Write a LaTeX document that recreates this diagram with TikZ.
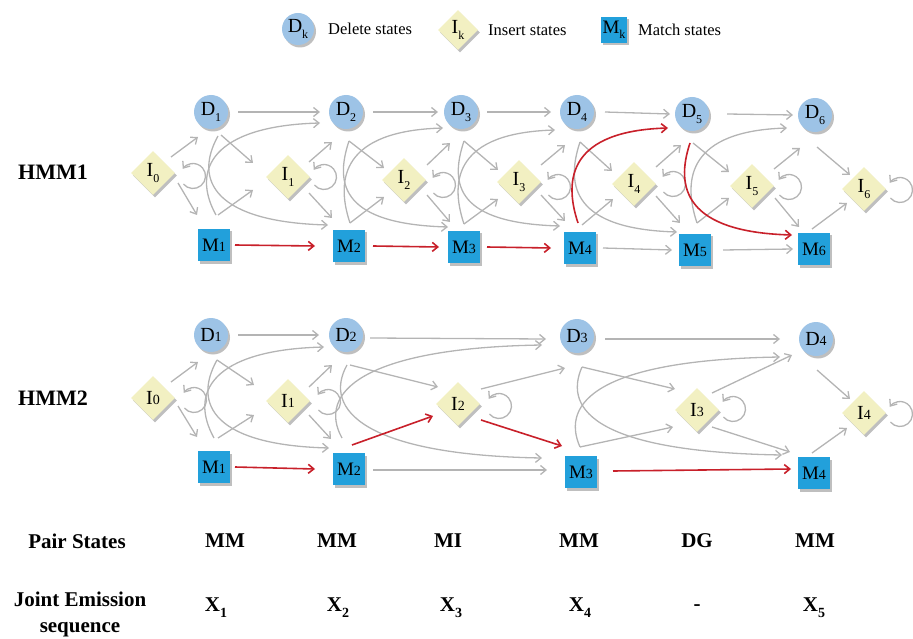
\documentclass[tikz,border=0pt]{standalone}
\usepackage{fontspec}
\setmainfont{Liberation Serif}
\usetikzlibrary{arrows.meta,shapes.geometric,shadows,calc,backgrounds}
\definecolor{dfill}{RGB}{157,195,230}
\definecolor{ifill}{RGB}{242,240,194}
\definecolor{mfill}{RGB}{34,160,219}
\definecolor{gline}{RGB}{180,180,180}
\definecolor{rline}{RGB}{200,32,42}
\newcommand\lsub[1]{\raisebox{-5.5pt}{\fontsize{12}{12}\selectfont #1}}
\newcommand\lsml[1]{{\fontsize{14}{14}\selectfont #1}}
\newcommand\xsub[1]{\raisebox{-6pt}{\fontsize{14}{14}\selectfont #1}}
\newcommand\edgeS[5][garr]{\draw[#1] ([shift={(#3)}]#2.center) -- ([shift={(#5)}]#4.center);}
\newcommand\curveDn[6][garr]{%
  \coordinate (cs) at ([shift={(#3)}]#2.center);
  \coordinate (ct) at ([shift={(#5)}]#4.center);
  \draw[#1] (cs) .. controls ($(cs)+(#6,45)$) and ($(cs |- ct)!0.25!(ct)+(-30,-3)$) .. (ct);}
\newcommand\curveUp[6][garr]{%
  \coordinate (cs) at ([shift={(#3)}]#2.center);
  \coordinate (ct) at ([shift={(#5)}]#4.center);
  \draw[#1] (cs) .. controls ($(cs)+(#6,-45)$) and ($(cs |- ct)!0.25!(ct)+(-30,3)$) .. (ct);}
\newcommand\selfloop[2]{\draw[garr] ([shift={(#2)}]#1.center) ++(140:12.5) arc[start angle=140,end angle=-145,radius=12.5];}
\tikzset{
  shd/.style={drop shadow={shadow xshift=2pt,shadow yshift=-2.5pt,fill=black,opacity=.25}},
  dnode/.style={circle, fill=dfill, minimum size=34pt, inner sep=0pt, font=\fontsize{20}{22}\selectfont, shd},
  inode/.style={diamond, fill=ifill, minimum size=44pt, inner sep=0pt, font=\fontsize{20}{22}\selectfont, shd},
  mnode/.style={rectangle, fill=mfill, minimum size=32pt, inner sep=0pt, font=\fontsize{19}{22}\selectfont, shd},
  garr/.style={draw=gline, line width=1.3pt, -{Straight Barb[length=5.5pt,width=9pt]}},
  rarr/.style={draw=rline, line width=1.6pt, -{Straight Barb[length=5.5pt,width=9pt]}},
  btext/.style={font=\fontsize{21}{26}\selectfont\bfseries, inner sep=0pt},
  ltext/.style={font=\fontsize{16.5}{19}\selectfont, anchor=west, inner sep=0pt},
}
\begin{document}
\begin{tikzpicture}[x=1pt,y=-1pt]
\useasboundingbox (0,0) rectangle (913,639);
% legend
\node[dnode, minimum size=32pt] (lD) at (298,29) {D\lsub{k}};
\node[ltext] (lDt) at (328,29) {Delete states};
\node[inode, minimum size=40pt] (lI) at (458,30) {I\lsub{k}};
\node[ltext] (lIt) at (488,30) {Insert states};
\node[mnode, minimum size=26pt] (lM) at (614,30) {M\lsub{k}};
\node[ltext] (lMt) at (638,30) {Match states};
% HMM1
\node[btext, font=\fontsize{22}{26}\selectfont\bfseries] (h1) at (53,172) {HMM1};
\node[dnode] (aD1) at (211,112) {D\lsub1};
\node[dnode] (aD2) at (346,112) {D\lsub2};
\node[dnode] (aD3) at (461,112) {D\lsub3};
\node[dnode] (aD4) at (577,112) {D\lsub4};
\node[dnode] (aD5) at (692,114) {D\lsub5};
\node[dnode] (aD6) at (815,115) {D\lsub6};
\node[inode] (aI0) at (153,173) {I\lsub0};
\node[inode] (aI1) at (288,177) {I\lsub1};
\node[inode] (aI2) at (404,180) {I\lsub2};
\node[inode] (aI3) at (519,182) {I\lsub3};
\node[inode] (aI4) at (634,184) {I\lsub4};
\node[inode] (aI5) at (752,186) {I\lsub5};
\node[inode] (aI6) at (864,189) {I\lsub6};
\node[mnode] (aM1) at (214,245) {M\lsml1};
\node[mnode] (aM2) at (349,246) {M\lsml2};
\node[mnode] (aM3) at (464,247) {M\lsml3};
\node[mnode] (aM4) at (580,248) {M\lsml4};
\node[mnode] (aM5) at (695,250) {M\lsml5};
\node[mnode] (aM6) at (814,249) {M\lsml6};
% HMM2
\node[btext, font=\fontsize{22}{26}\selectfont\bfseries] (h2) at (53,398) {HMM2};
\node[dnode] (bD1) at (211,335) {D\lsml1};
\node[dnode] (bD2) at (346,335) {D\lsml2};
\node[dnode] (bD3) at (577,336) {D\lsml3};
\node[dnode] (bD4) at (816,339) {D\lsml4};
\node[inode] (bI0) at (153,398) {I\lsml0};
\node[inode] (bI1) at (288,401) {I\lsml1};
\node[inode] (bI2) at (458,404) {I\lsml2};
\node[inode] (bI3) at (697,410) {I\lsml3};
\node[inode] (bI4) at (864,413) {I\lsml4};
\node[mnode] (bM1) at (214,467) {M\lsml1};
\node[mnode] (bM2) at (349,469) {M\lsml2};
\node[mnode] (bM3) at (581,472) {M\lsml3};
\node[mnode] (bM4) at (814,473) {M\lsml4};
% bottom text
\node[btext] (ps) at (77,541) {Pair States};
\node[btext] (p1) at (225,541) {MM};
\node[btext] (p2) at (337,541) {MM};
\node[btext] (p3) at (448,541) {MI};
\node[btext] (p4) at (579,541) {MM};
\node[btext] (p5) at (697,541) {DG};
\node[btext] (p6) at (815,541) {MM};
\node[btext, align=center] (je) at (80,614) {Joint Emission\\sequence};
\node[btext] (x1) at (216,608) {X\xsub1};
\node[btext] (x2) at (338,608) {X\xsub2};
\node[btext] (x3) at (451,608) {X\xsub3};
\node[btext] (x4) at (580,608) {X\xsub4};
\node[btext] (x5) at (697,608) {-};
\node[btext] (x6) at (814,608) {X\xsub5};
\begin{scope}[on background layer]
% ---- HMM1 gray
\edgeS{aI0}{18,-16}{aD1}{-13,25}
\edgeS{aI0}{25,10}{aM1}{-17,-30}
\selfloop{aI0}{40,3}
\edgeS{aD1}{27,0}{aD2}{-26,0}
\edgeS{aD1}{10,23}{aI1}{-35,-14}
\edgeS{aM1}{4,-30}{aI1}{-35,13}
\edgeS{aI1}{21,-15}{aD2}{-14,30}
\edgeS{aI1}{21,16}{aM2}{-17,-28}
\curveDn{aD1}{7,24}{aM2}{-21,-21}{-25}
\curveUp{aM1}{2,-30}{aD2}{-26,11}{-25}
\selfloop{aI1}{36,0}
\edgeS{aD2}{27,0}{aD3}{-23,0}
\edgeS{aD2}{3,29}{aI2}{-20,-12}
\edgeS{aM2}{1,-23}{aI2}{-20,17}
\edgeS{aI2}{23,-15}{aD3}{-11,31}
\edgeS{aI2}{23,15}{aM3}{-14,-25}
\curveDn{aD2}{3,29}{aM3}{-16,-20}{-15}
\curveUp{aM2}{1,-23}{aD3}{-18,16}{-15}
\selfloop{aI2}{39,5}
\edgeS{aD3}{26,0}{aD4}{-26,0}
\edgeS{aD3}{3,29}{aI3}{-21,-12}
\edgeS{aM3}{0,-23}{aI3}{-21,17}
\edgeS{aI3}{22,-17}{aD4}{-12,33}
\edgeS{aI3}{22,13}{aM4}{-15,-27}
\curveDn{aD3}{3,29}{aM4}{-20,-22}{-15}
\curveUp{aM3}{0,-23}{aD4}{-22,18}{-15}
\selfloop{aI3}{39,5}
\edgeS{aD4}{28,0}{aD5}{-22,0}
\edgeS{aD4}{3,30}{aI4}{-22,-13}
\edgeS{aM4}{2,-23}{aI4}{-21,15}
\edgeS{aM4}{23,0}{aM5}{-23,0}
\edgeS{aI4}{22,-17}{aD5}{-11,31}
\edgeS{aI4}{22,12}{aM5}{-15,-27}
\curveDn{aD4}{3,30}{aM5}{-18,-18}{-15}
\selfloop{aI4}{39,0}
\edgeS{aD5}{35,0}{aD6}{-22,0}
\edgeS{aD5}{1,29}{aI5}{-23,-14}
\edgeS{aM5}{2,-27}{aI5}{-23,12}
\edgeS{aM5}{28,0}{aM6}{-21,0}
\edgeS{aI5}{22,-17}{aD6}{-15,33}
\edgeS{aI5}{23,12}{aM6}{-15,-22}
\curveUp{aM5}{2,-27}{aD6}{-28,13}{-15}
\selfloop{aI5}{37,1}
\edgeS{aD6}{2,32}{aI6}{-14,-14}
\edgeS{aM6}{-2,-20}{aI6}{-17,14}
\selfloop{aI6}{36,1}
% ---- HMM2 gray
\edgeS{bI0}{18,-16}{bD1}{-13,27}
\edgeS{bI0}{25,8}{bM1}{-17,-30}
\selfloop{bI0}{41,2}
\edgeS{bD1}{27,0}{bD2}{-27,0}
\edgeS{bD1}{6,25}{bI1}{-34,-16}
\edgeS{bM1}{4,-29}{bI1}{-34,14}
\edgeS{bI1}{21,-14}{bD2}{-14,30}
\edgeS{bI1}{21,14}{bM2}{-18,-30}
\curveDn{bD1}{6,25}{bM2}{-20,-21}{-25}
\curveUp{bM1}{0,-29}{bD2}{-22,12}{-25}
\selfloop{bI1}{40,1}
\edgeS{bD2}{24,3}{bD3}{-31,3}
\edgeS{bD2}{4,30}{bI2}{-20,-17}
\edgeS{bM2}{24,1}{bM3}{-34,-2}
\edgeS{bI2}{23,-15}{bD3}{-12,32}
\curveDn{bD2}{1,30}{bM3}{-39,-14}{-25}
\curveUp{bM2}{-7,-31}{bD3}{-35,9}{-25}
\selfloop{bI2}{41,2}
\edgeS{bD3}{28,3}{bD4}{-36,0}
\edgeS{bD3}{5,31}{bI3}{-22,-21}
\edgeS{bM3}{-1,-25}{bI3}{-24,17}
\edgeS{bI3}{15,-17}{bD4}{-24,16}
\edgeS{bI3}{15,17}{bM4}{-24,-21}
\curveDn{bD3}{5,31}{bM4}{-32,-18}{-20}
\curveUp{bM3}{-1,-25}{bD4}{-36,18}{-20}
\selfloop{bI3}{36,-1}
\edgeS{bD4}{1,31}{bI4}{-14,-14}
\edgeS{bM4}{-2,-20}{bI4}{-17,15}
\selfloop{bI4}{36,1}
% ---- red paths
\edgeS[rarr]{aM1}{21,0}{aM2}{-34,0}
\edgeS[rarr]{aM2}{24,0}{aM3}{-25,0}
\edgeS[rarr]{aM3}{23,0}{aM4}{-29,0}
\curveUp[rarr]{aM4}{-2,-25}{aD5}{-24,14}{-15}
\curveDn[rarr]{aD5}{-2,29}{aM6}{-22,-14}{-15}
\edgeS[rarr]{bM1}{21,0}{bM2}{-34,0}
\edgeS[rarr]{bM2}{3,-24}{bI2}{-25,12}
\edgeS[rarr]{bI2}{23,16}{bM3}{-19,-26}
\edgeS[rarr]{bM3}{32,-1}{bM4}{-23,-4}
\end{scope}
\end{tikzpicture}
\end{document}
